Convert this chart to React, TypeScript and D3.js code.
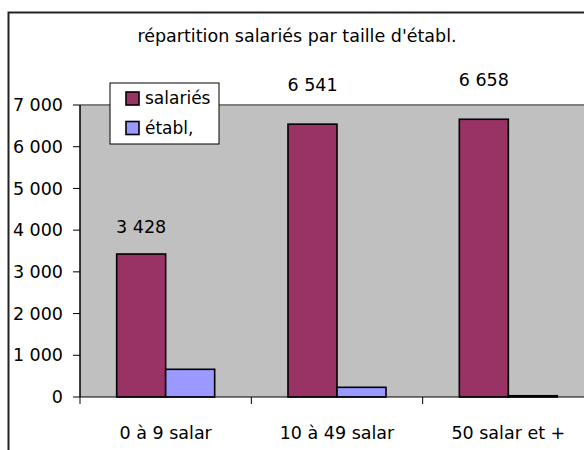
import * as d3 from "d3"

const categories = ["0 à 9 salar", "10 à 49 salar", "50 salar et +"]
const seriesNames = ["salariés", "établ,"]
const salaries = [3428, 6541, 6658]
const etabl = [664, 232, 30]
const yTicks = [0, 1000, 2000, 3000, 4000, 5000, 6000, 7000]

const title = "répartition salariés par taille d'établ."
const colors = ["#993366", "#9999ff"]
const font = "'Comic Sans MS', 'DejaVu Sans', sans-serif"
const fs = 17.5

const fmt = (v: number) => d3.format(",")(v).replace(/,/g, " ")

export default function App() {
  const width = 584
  const height = 450
  const plot = { left: 80, top: 105, right: 594, bottom: 397 }

  const x0 = d3.scaleBand<string>().domain(categories).range([plot.left, plot.right])
  const groupW = x0.bandwidth() * 0.572
  const x1 = d3.scaleBand<string>().domain(seriesNames).range([0, groupW])
  const y = d3.scaleLinear().domain([0, 7000]).range([plot.bottom, plot.top])

  const series = [salaries, etabl]

  // Excel puts the labels a bit further up for taller bars
  const labelY = (v: number) => y(v) - 14.6 - 0.091 * (y(0) - y(v))

  return (
    <svg
      width={width}
      height={height}
      style={{ position: "absolute", left: 0, top: 0, background: "#fff" }}
      fontFamily={font}
    >
      {/* chart frame, runs off the picture on the right and bottom */}
      <rect x={8.5} y={12.5} width={700} height={500} fill="#fff" stroke="#222" strokeWidth={2} />

      <text x={297} y={36} textAnchor="middle" dy="0.35em" fontSize={fs} fill="#000">
        {title}
      </text>

      {/* plot area */}
      <rect x={plot.left} y={plot.top} width={plot.right - plot.left} height={plot.bottom - plot.top} fill="#c0c0c0" />
      <line x1={plot.left} x2={plot.right + 10} y1={plot.top} y2={plot.top} stroke="#808080" strokeWidth={2} />

      {/* bars */}
      {categories.map((c, i) => {
        const gx = x0(c)! + (x0.bandwidth() - groupW) / 2
        return (
          <g key={c} transform={`translate(${gx},0)`}>
            {series.map((s, j) => (
              <rect
                key={j}
                x={x1(seriesNames[j])!}
                y={y(s[i])}
                width={x1.bandwidth()}
                height={y(0) - y(s[i])}
                fill={colors[j]}
                stroke="#000"
                strokeWidth={1.6}
              />
            ))}
          </g>
        )
      })}

      {/* data labels for salariés */}
      {categories.map((c, i) => {
        const gx = x0(c)! + (x0.bandwidth() - groupW) / 2
        return (
          <text
            key={c}
            x={gx + x1(seriesNames[0])! + x1.bandwidth() / 2}
            y={labelY(salaries[i])}
            dy="0.35em"
            textAnchor="middle"
            fontSize={fs}
            fill="#000"
          >
            {fmt(salaries[i])}
          </text>
        )
      })}

      {/* y axis */}
      <line x1={plot.left} x2={plot.left} y1={plot.top} y2={plot.bottom} stroke="#000" strokeWidth={1.5} />
      {yTicks.map((t) => (
        <g key={t}>
          <line x1={plot.left - 7} x2={plot.left} y1={y(t)} y2={y(t)} stroke="#000" />
          <text x={63} y={y(t)} dy="0.35em" textAnchor="end" fontSize={fs} fill="#000">
            {fmt(t)}
          </text>
        </g>
      ))}

      {/* x axis */}
      <line x1={plot.left} x2={plot.right} y1={plot.bottom} y2={plot.bottom} stroke="#000" />
      {categories.map((c) => (
        <g key={c}>
          <line x1={x0(c)!} x2={x0(c)!} y1={plot.bottom} y2={plot.bottom + 7} stroke="#000" />
          <text
            x={x0(c)! + x0.bandwidth() / 2}
            y={433}
            dy="0.35em"
            textAnchor="middle"
            fontSize={fs}
            fill="#000"
          >
            {c}
          </text>
        </g>
      ))}

      {/* legend */}
      <g transform="translate(110,83)">
        <rect width={109} height={61} fill="#fff" stroke="#000" />
        {seriesNames.map((n, j) => (
          <g key={n} transform={`translate(16,${9 + j * 29.5})`}>
            <rect width={13} height={13} fill={colors[j]} stroke="#000" strokeWidth={1.6} />
            <text x={19} y={6.5} dy="0.35em" fontSize={17} fill="#000">
              {n}
            </text>
          </g>
        ))}
      </g>
    </svg>
  )
}
